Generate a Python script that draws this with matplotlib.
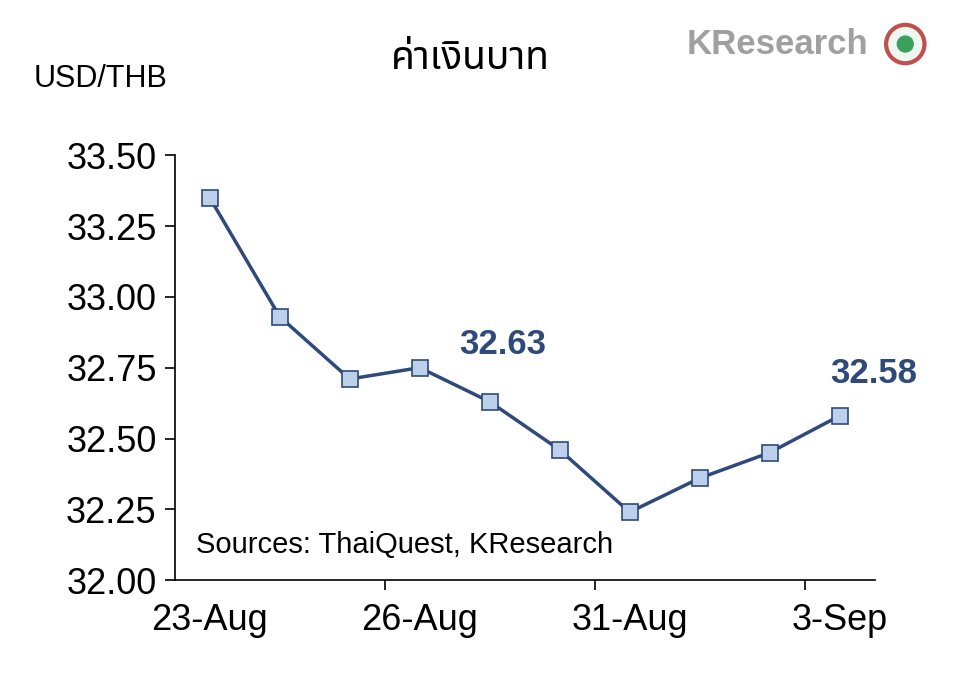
import matplotlib.pyplot as plt
from matplotlib.patches import Ellipse

dates = ['23-Aug', '24-Aug', '25-Aug', '26-Aug', '27-Aug', '30-Aug', '31-Aug', '1-Sep', '2-Sep', '3-Sep']
usd_thb = [33.35, 32.93, 32.71, 32.75, 32.63, 32.46, 32.24, 32.36, 32.45, 32.58]
yticks = [32.00, 32.25, 32.50, 32.75, 33.00, 33.25, 33.50]

plt.rcParams['font.family'] = ['Liberation Sans', 'DejaVu Sans']
fig = plt.figure(figsize=(9.6, 6.99), dpi=100)
ax = fig.add_axes([0.182, 0.170, 0.729, 0.608])

x = list(range(len(usd_thb)))
line_col = '#2e4a7a'
ax.plot(x, usd_thb, color=line_col, lw=2.5, marker='s', ms=12,
        mfc='#bcd0ec', mec=line_col, mew=1.2)

ax.set_xlim(-0.5, len(x) - 0.5)
ax.set_ylim(32.0, 33.5)
ax.set_yticks(yticks)
ax.set_yticklabels([f'{v:.2f}' for v in yticks], fontsize=26)
ax.set_xticks([2.5, 5.5, 8.5])
ax.set_xticklabels([])
ax.tick_params(axis='x', length=7, direction='out', width=1.2)
ax.tick_params(axis='y', length=7, direction='out', width=1.2, pad=6)
for i in [0, 3, 6, 9]:
    ax.text(i, 31.92, dates[i], ha='center', va='top', fontsize=26)
for s in ['top', 'right']:
    ax.spines[s].set_visible(False)
for s in ['left', 'bottom']:
    ax.spines[s].set_linewidth(1.2)

ax.annotate(f'{usd_thb[4]:.2f}', (4, usd_thb[4]), xytext=(-22, 34), textcoords='offset points',
            fontsize=25, fontweight='bold', color=line_col, ha='left')
ax.annotate(f'{usd_thb[9]:.2f}', (9, usd_thb[9]), xytext=(-7, 24), textcoords='offset points',
            fontsize=25, fontweight='bold', color=line_col, ha='left')
ax.text(0.03, 0.065, 'Sources: ThaiQuest, KResearch', transform=ax.transAxes, fontsize=21)

fig.text(0.035, 0.875, 'USD/THB', fontsize=22)
fig.text(0.49, 0.915, 'ค่าเงินบาท', fontsize=28, fontweight='bold', ha='center', va='center',
         family=['Noto Sans Thai', 'Loma', 'Garuda', 'DejaVu Sans'])
fig.text(0.715, 0.937, 'KResearch', fontsize=25, color='#a0a0a0', fontweight='bold', va='center')
w, h = 0.040, 0.040 * 960 / 699
fig.patches.append(Ellipse((0.943, 0.937), w, h, transform=fig.transFigure,
                           fc='#eef7f0', ec='#c0504d', lw=3))
fig.patches.append(Ellipse((0.943, 0.937), w * 0.45, h * 0.45, transform=fig.transFigure,
                           fc='#3aa060', ec='none'))

fig.savefig('out.png', dpi=100, facecolor='white')
